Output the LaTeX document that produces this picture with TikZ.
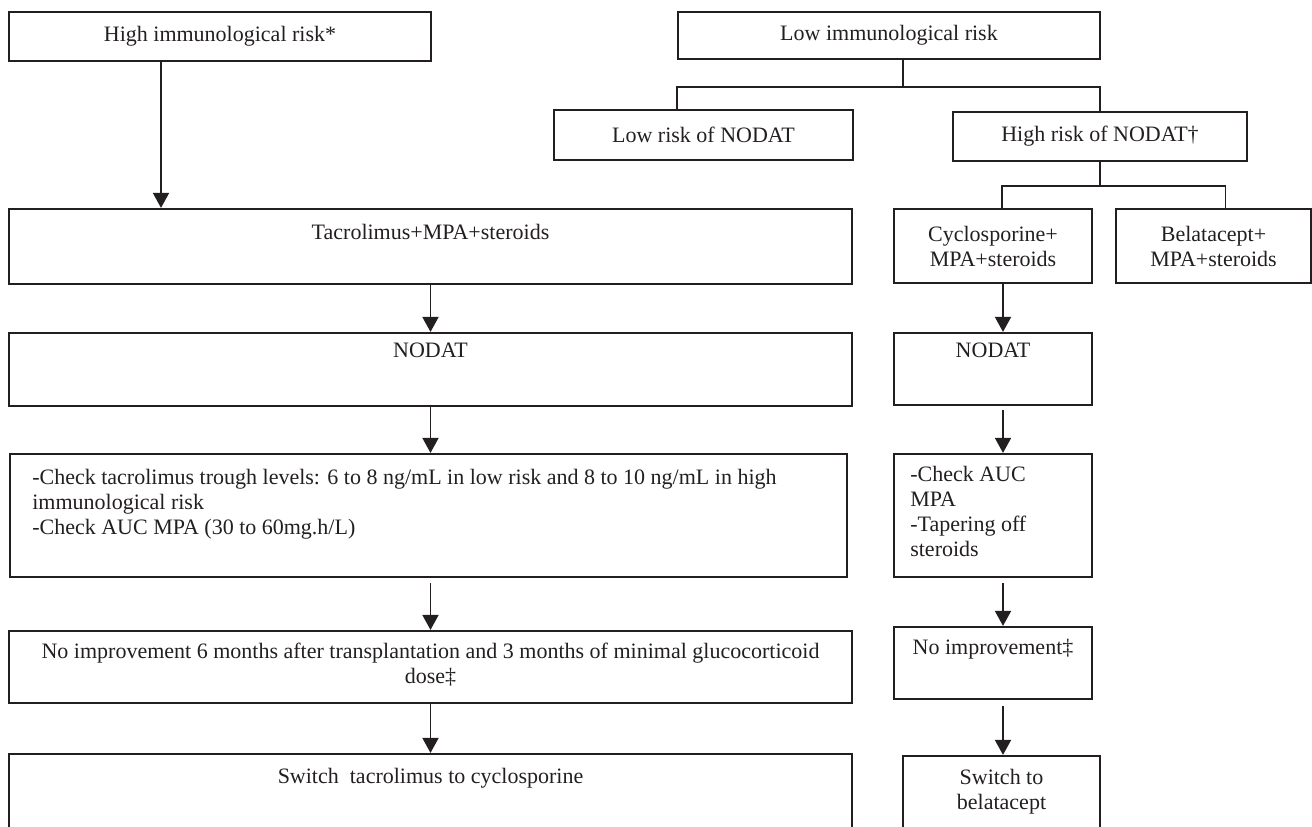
\documentclass[tikz,border=0pt]{standalone}
\usepackage{fontspec}
\setmainfont{Liberation Serif}
\usepackage{tikz}
\usetikzlibrary{arrows.meta, positioning}
\definecolor{ink}{RGB}{35,31,32}

\begin{document}
\begin{tikzpicture}[x=0.5pt, y=-0.5pt,
    font=\fontsize{11pt}{12.5pt}\selectfont,
    box/.style={draw=ink, line width=1.1pt, inner sep=0pt, align=center, text=ink},
    txt/.style={inner sep=0pt, align=center, text=ink},
    link/.style={draw=ink, line width=0.9pt},
    arr/.style={draw=ink, line width=0.9pt, -{Triangle[length=7.5pt, width=8pt]}}
]
    \useasboundingbox (0,0) rectangle (1312,826);
    \clip (0,0) rectangle (1312,826);

    % left column: high immunological risk
    \node[box, name=highimm, minimum width=211pt, minimum height=24.5pt] at(220,36.5) {High immunological risk*};
    \node[box, name=tac, minimum width=421.5pt, minimum height=37.5pt] at(430.5,246.5) {};
    \node[box, name=lnod, minimum width=421.5pt, minimum height=36.5pt] at(430.5,369.5) {};
    \node[box, name=lcheck, minimum width=418.5pt, minimum height=61.5pt] at(428.5,515.5) {};
    \node[box, name=limp, minimum width=421.5pt, minimum height=36pt] at(430.5,667) {};
    \node[box, name=lswitch, minimum width=421.5pt, minimum height=53pt] at(430.5,807) {};

    \node[txt, name=tac-t, below=8pt of tac.north] {Tacrolimus+MPA+steroids};
    \node[txt, name=lnod-t, below=5.5pt of lnod.north] {NODAT};
    \node[txt, name=lcheck-t, align=left, anchor=north west] at([xshift=11.5pt, yshift=-8pt]lcheck.north west)
        {-Check tacrolimus trough levels: 6 to 8 ng/mL in low risk and 8 to 10 ng/mL in high\\
         immunological risk\\
         -Check AUC MPA (30 to 60mg.h/L)};
    \node[txt, name=limp-t, below=6.5pt of limp.north]
        {No improvement 6 months after transplantation and 3 months of minimal glucocorticoid\\ dose\ddag};
    \node[txt, name=lswitch-t, below=7.5pt of lswitch.north] {Switch~ tacrolimus to cyclosporine};

    % right column: low immunological risk
    \node[box, name=lowimm, minimum width=211pt, minimum height=23.5pt] at(889,35.5) {Low immunological risk};
    \node[box, name=lownod, minimum width=149.5pt, minimum height=25pt] at(703.5,135) {Low risk of NODAT};
    \node[box, name=highnod, minimum width=147pt, minimum height=24.5pt] at(1100,136.5) {High risk of NODAT\dag};
    \node[box, name=cyclo, minimum width=99pt, minimum height=37pt] at(993,246) {Cyclosporine+\\MPA+steroids};
    \node[box, name=belat, minimum width=97.5pt, minimum height=37pt] at(1213.5,246) {Belatacept+\\MPA+steroids};
    \node[box, name=rnod, minimum width=99pt, minimum height=36pt] at(993,369) {};
    \node[box, name=rcheck, minimum width=99pt, minimum height=61.5pt] at(993,515.5) {};
    \node[box, name=rimp, minimum width=99pt, minimum height=36pt] at(993,663) {};
    \node[box, name=rswitch, minimum width=98.5pt, minimum height=52pt] at(1001.5,808) {};

    \node[txt, name=rnod-t, below=5.5pt of rnod.north] {NODAT};
    \node[txt, name=rcheck-t, align=left, anchor=north west] at([xshift=8.5pt, yshift=-6.5pt]rcheck.north west)
        {-Check AUC\\MPA\\-Tapering off\\steroids};
    \node[txt, name=rimp-t, below=6.5pt of rimp.north] {No improvement\ddag};
    \node[txt, name=rswitch-t, below=7pt of rswitch.north] {Switch to\\belatacept};

    \coordinate (hcol) at (161,0);
    \coordinate (rcol) at (1003,0);
    \coordinate (lsplit) at (903,87);
    \coordinate (hsplit) at (1100,186);

    \draw[arr] (highimm.south -| hcol) -- (tac.north -| hcol);
    \draw[arr] (tac.south) -- (lnod.north);
    \draw[arr] (lnod.south) -- (lnod.south |- lcheck.north);
    \draw[arr, shorten <=2.5pt] (lnod.south |- lcheck.south) -- (limp.north);
    \draw[arr] (limp.south) -- (lswitch.north);

    \draw[link] (lowimm.south -| lsplit) -- (lsplit);
    \draw[link] (lownod.north -| lowimm.west) |- (lsplit) -| (highnod.north);
    \draw[link] (highnod.south) -- (hsplit);
    \draw[link] ([xshift=4.5pt]cyclo.north) |- (hsplit) -| ([xshift=6pt]belat.north);

    \draw[arr] (cyclo.south -| rcol) -- (rnod.north -| rcol);
    \draw[arr, shorten <=2pt] (rnod.south -| rcol) -- (rcheck.north -| rcol);
    \draw[arr, shorten <=2.5pt] (rcheck.south -| rcol) -- (rimp.north -| rcol);
    \draw[arr, shorten <=3pt] (rimp.south -| rcol) -- (rswitch.north -| rcol);
\end{tikzpicture}
\end{document}
